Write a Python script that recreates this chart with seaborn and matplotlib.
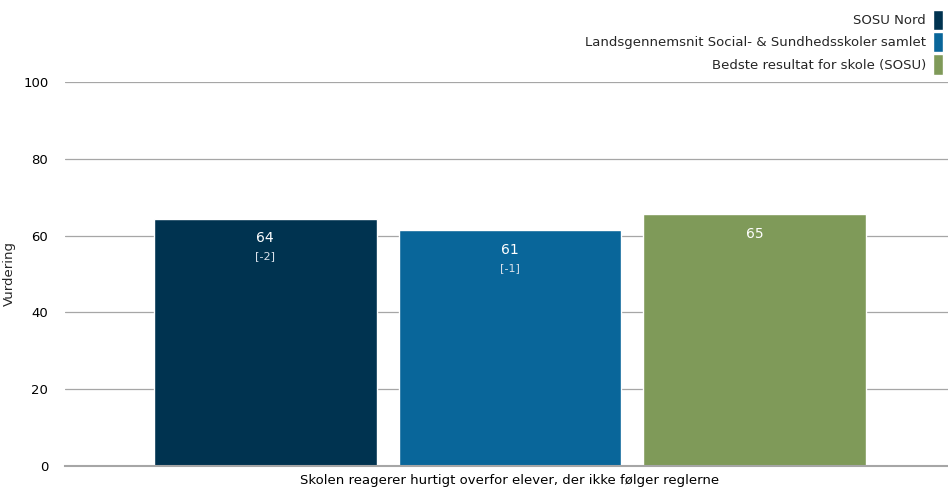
import pandas as pd
import numpy as np
import matplotlib
matplotlib.use("Agg")
import matplotlib.pyplot as plt
import seaborn as sns

# Data
question = ["Skolen reagerer hurtigt overfor elever, der ikke følger reglerne"]
series = ["SOSU Nord",
          "Landsgennemsnit Social- & Sundhedsskoler samlet",
          "Bedste resultat for skole (SOSU)"]
values = [64.4, 61.4, 65.6]
labels = ["64", "61", "65"]
changes = ["[-2]", "[-1]", ""]
colors = ["#003350", "#09669a", "#7f9a59"]

df = pd.DataFrame({
    "spm": question * len(series),
    "serie": series,
    "vaerdi": values,
})

sns.set_theme(style="white")
plt.rcParams["font.family"] = ["DejaVu Sans"]

fig = plt.figure(figsize=(9.48, 4.88), dpi=100)
ax = fig.add_axes([65 / 948, 22 / 488, 883 / 948, 384 / 488])

sns.barplot(data=df, x="spm", y="vaerdi", hue="serie", hue_order=series,
            palette=colors, width=0.832, gap=0.09, saturation=1,
            ax=ax, legend=True)

ax.set_ylim(0, 100)
ax.set_xlim(-0.504, 0.496)
ax.set_yticks(np.arange(0, 101, 20))
ax.yaxis.grid(True, color="#a6a6a6", linewidth=0.9)
ax.set_axisbelow(True)
for s in ["top", "right", "left"]:
    ax.spines[s].set_visible(False)
ax.spines["bottom"].set_color("#a6a6a6")
ax.spines["bottom"].set_linewidth(1.5)
ax.tick_params(axis="both", length=0, labelsize=9.5, colors="black")
ax.tick_params(axis="y", pad=12)
ax.tick_params(axis="x", pad=6)
ax.set_xlabel("")
ax.set_ylabel("Vurdering", fontsize=9.5, labelpad=5)

# value labels inside the bars
for patch, lab, ch in zip(ax.patches, labels, changes):
    cx = patch.get_x() + patch.get_width() / 2
    top = patch.get_height()
    ax.annotate(lab, (cx, top), xytext=(0, -14), textcoords="offset points",
                ha="center", va="center", color="white", fontsize=10)
    if ch:
        ax.annotate(ch, (cx, top), xytext=(0, -27), textcoords="offset points",
                    ha="center", va="center", color="#d9e1ea", fontsize=8)

handles, leg_labels = ax.get_legend_handles_labels()
ax.legend(handles, leg_labels, loc="lower right", bbox_to_anchor=(1.0, 1.005),
          markerfirst=False, frameon=False, handlelength=0.75,
          handleheight=2.0, handletextpad=0.5, labelspacing=0.15,
          fontsize=9.5, borderaxespad=0.2, borderpad=0.2)

fig.savefig("out.png", dpi=100)
